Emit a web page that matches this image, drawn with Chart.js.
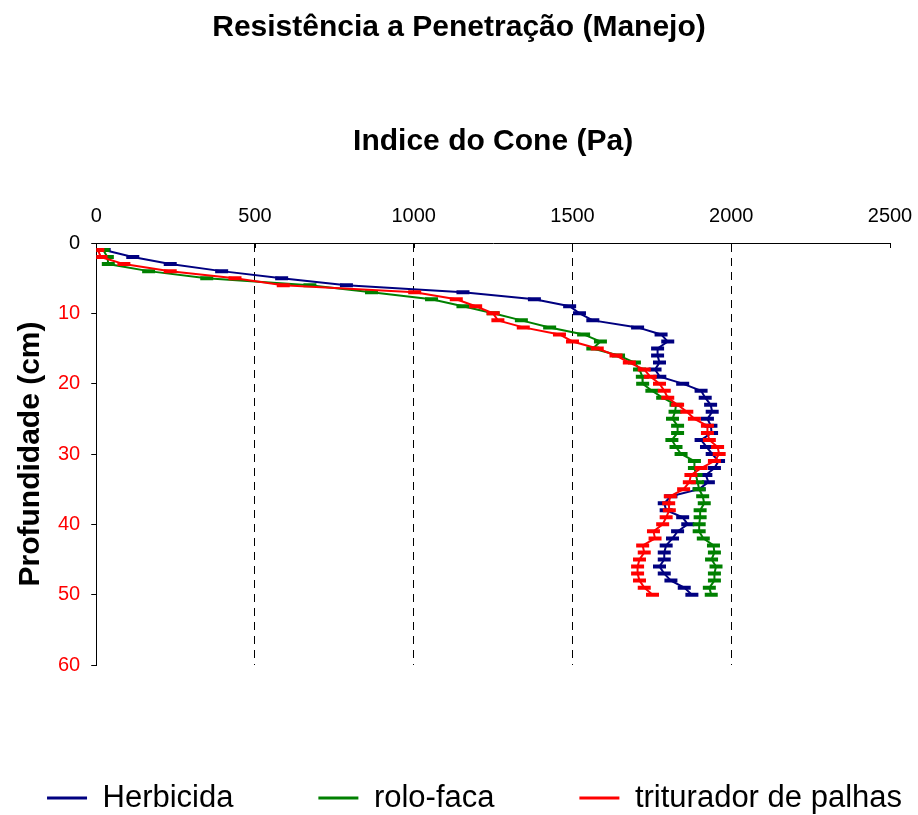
<!DOCTYPE html>
<html><head><meta charset="utf-8">
<script src="https://cdn.jsdelivr.net/npm/chart.js@4/dist/chart.umd.min.js"></script>
<style>html,body{margin:0;padding:0;background:#fff}canvas{display:block}</style>
</head><body>
<canvas id="c" width="918" height="815"></canvas>
<script>
// ---- data ----
const depths = [1,2,3,4,5,6,7,8,9,10,11,12,13,14,15,16,17,18,19,20,21,22,23,24,25,26,27,28,29,30,31,32,33,34,35,36,37,38,39,40,41,42,43,44,45,46,47,48,49,50];
const herbicida = [25,115,233,395,584,788,1155,1380,1491,1522,1564,1705,1779,1800,1768,1768,1774,1760,1775,1847,1905,1918,1935,1940,1925,1936,1938,1905,1922,1940,1960,1947,1920,1928,1899,1810,1789,1795,1847,1863,1831,1815,1795,1789,1789,1774,1789,1810,1852,1876];
const roloFaca = [22,35,38,165,348,673,867,1056,1155,1250,1339,1428,1535,1588,1564,1645,1695,1711,1720,1721,1750,1784,1826,1823,1815,1831,1831,1813,1826,1842,1884,1884,1889,1894,1899,1910,1915,1902,1902,1899,1899,1912,1944,1947,1938,1952,1947,1947,1931,1937];
const triturador = [5,15,87,233,437,589,1003,1134,1195,1250,1265,1345,1459,1500,1578,1637,1679,1726,1745,1774,1789,1800,1831,1860,1884,1925,1925,1931,1957,1962,1947,1905,1873,1868,1850,1808,1803,1805,1795,1784,1755,1760,1721,1726,1711,1705,1705,1711,1726,1752];
const seriesNames = ['Herbicida','rolo-faca','triturador de palhas'];
const chartTitle = 'Resistência a Penetração (Manejo)';
const xTitle = 'Indice do Cone (Pa)';
const yTitle = 'Profundidade (cm)';
const xMin = 0, xMax = 2500, xStep = 500;
const yMin = 0, yMax = 60, yStep = 10;

// ---- styles ----
const FONT = "'Liberation Sans', Arial, Helvetica, sans-serif";
const colors = ['#000080','#008000','#ff0000'];
const legendTrail = [8, 8, 0];

const toPts = vals => vals.map((v, i) => ({x: v, y: depths[i]}));
function makeDs(label, vals, color, order) {
  return {
    label, data: toPts(vals), borderColor: color, backgroundColor: color,
    borderWidth: 2, showLine: true, fill: false, tension: 0,
    pointStyle: 'line', pointRadius: 6.5, pointHoverRadius: 6.5,
    pointBorderWidth: 4, pointBorderColor: color, order
  };
}

const insideTicks = {
  id: 'insideTicks',
  afterDraw(chart) {
    const xs = chart.scales.x, top = chart.chartArea.top, ctx = chart.ctx;
    ctx.save();
    ctx.strokeStyle = '#000'; ctx.lineWidth = 1; ctx.beginPath();
    xs.ticks.forEach(t => {
      const px = Math.round(xs.getPixelForValue(t.value)) + 0.5;
      ctx.moveTo(px, top); ctx.lineTo(px, top + 5);
    });
    ctx.stroke(); ctx.restore();
  }
};

new Chart(document.getElementById('c'), {
  type: 'scatter',
  data: {
    datasets: [
      makeDs(seriesNames[0], herbicida, colors[0], 3),
      makeDs(seriesNames[1], roloFaca, colors[1], 2),
      makeDs(seriesNames[2], triturador, colors[2], 1)
    ]
  },
  options: {
    responsive: false, animation: false, devicePixelRatio: 1,
    layout: {padding: {left: 0, right: 0, top: 0, bottom: 0}},
    scales: {
      x: {
        type: 'linear', position: 'top', min: xMin, max: xMax,
        ticks: {stepSize: xStep, color: '#000', font: {family: FONT, size: 20}, padding: 5,
          callback: v => String(v)},
        grid: {
          color: c => (c.tick && (c.tick.value === xMin || c.tick.value === xMax)) ? 'rgba(0,0,0,0)' : '#000',
          lineWidth: 1, drawTicks: true, tickLength: 10, tickColor: 'rgba(0,0,0,0)'
        },
        border: {display: true, color: '#000', width: 1, dash: [8, 6]},
        title: {display: true, text: xTitle, color: '#000',
          font: {family: FONT, size: 30, weight: 'bold'}, padding: {top: 78, bottom: 39}}
      },
      y: {
        type: 'linear', reverse: true, min: yMin, max: yMax,
        ticks: {stepSize: yStep, font: {family: FONT, size: 20}, padding: 11,
          callback: v => String(v),
          color: c => (c.tick && c.tick.value === 0) ? '#000' : '#ff0000'},
        grid: {drawOnChartArea: false, drawTicks: true, tickLength: 5, color: '#000'},
        border: {display: true, color: '#000', width: 1},
        title: {display: true, text: yTitle, color: '#000',
          font: {family: FONT, size: 30, weight: 'bold', lineHeight: 1}, padding: {top: 16, bottom: 1}}
      },
      yR: {
        axis: 'y', type: 'linear', position: 'right', display: true,
        ticks: {display: false}, grid: {display: false}, border: {display: false},
        afterFit: s => { s.width = 28; }
      }
    },
    plugins: {
      title: {display: true, text: chartTitle, color: '#000',
        font: {family: FONT, size: 30, weight: 'bold'}, padding: {top: 10, bottom: 0}},
      legend: {
        display: true, position: 'bottom', align: 'end', maxHeight: 150,
        title: {display: true, text: ' ', padding: {top: 0, bottom: 91.5}, font: {size: 10, lineHeight: 1}},
        labels: {
          boxWidth: 40, boxHeight: 3, padding: 16, color: '#000',
          font: {family: FONT, size: 31},
          generateLabels: chart => chart.data.datasets.map((d, i) => ({
            text: d.label + ' '.repeat(legendTrail[i]),
            fillStyle: d.borderColor, strokeStyle: d.borderColor, fontColor: '#000',
            lineWidth: 0, hidden: false, datasetIndex: i
          }))
        }
      },
      tooltip: {enabled: false}
    }
  },
  plugins: [insideTicks]
});
</script>
</body></html>
